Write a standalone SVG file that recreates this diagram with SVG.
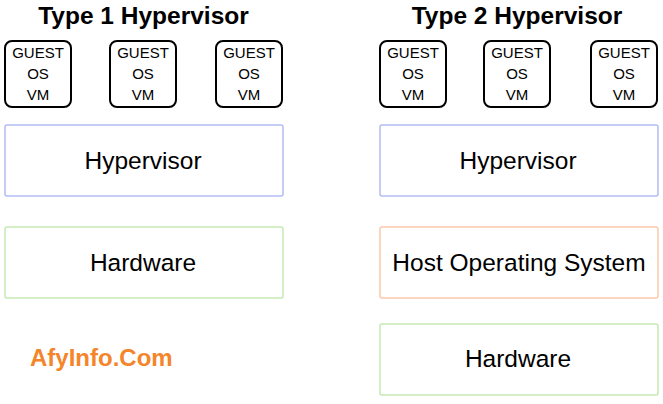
<svg xmlns="http://www.w3.org/2000/svg" width="663" height="404" viewBox="0 0 663 404">
<style>
text{font-family:"Liberation Sans",Arial,sans-serif;fill:#000;text-anchor:middle}
.title{font-size:24.5px;font-weight:bold}
.vm rect{fill:#fff;stroke:#000;stroke-width:2}
.vm text{font-size:15px}
.layer text{font-size:24.5px}
.blue{fill:#fff;stroke:#b3bdf5;stroke-width:1.5}
.green{fill:#fff;stroke:#c6eab2;stroke-width:1.5}
.orange{fill:#fff;stroke:#fcc9ab;stroke-width:1.5}
</style>
<rect width="663" height="404" fill="#fff"/>
<text class="title" x="143.5" y="24">Type 1 Hypervisor</text>
<text class="title" x="517" y="24">Type 2 Hypervisor</text>

<g id="vm1" class="vm"><rect x="5" y="41" width="66" height="66" rx="7"/><text x="38" y="58">GUEST</text><text x="38" y="79">OS</text><text x="38" y="100">VM</text></g>
<g id="vm2" class="vm"><rect x="110" y="41" width="66" height="66" rx="7"/><text x="143" y="58">GUEST</text><text x="143" y="79">OS</text><text x="143" y="100">VM</text></g>
<g id="vm3" class="vm"><rect x="216" y="41" width="66" height="66" rx="7"/><text x="249" y="58">GUEST</text><text x="249" y="79">OS</text><text x="249" y="100">VM</text></g>
<g id="vm4" class="vm"><rect x="380" y="41" width="66" height="66" rx="7"/><text x="413" y="58">GUEST</text><text x="413" y="79">OS</text><text x="413" y="100">VM</text></g>
<g id="vm5" class="vm"><rect x="484" y="41" width="66" height="66" rx="7"/><text x="517" y="58">GUEST</text><text x="517" y="79">OS</text><text x="517" y="100">VM</text></g>
<g id="vm6" class="vm"><rect x="591" y="41" width="66" height="66" rx="7"/><text x="624" y="58">GUEST</text><text x="624" y="79">OS</text><text x="624" y="100">VM</text></g>

<g id="hyp1" class="layer"><rect class="blue" x="5" y="125" width="278" height="71" rx="2"/><text x="143" y="169">Hypervisor</text></g>
<g id="hw1" class="layer"><rect class="green" x="5" y="227" width="278" height="71" rx="2"/><text x="143" y="271">Hardware</text></g>
<g id="hyp2" class="layer"><rect class="blue" x="380" y="125" width="278" height="71" rx="2"/><text x="518" y="169">Hypervisor</text></g>
<g id="hos" class="layer"><rect class="orange" x="380" y="227" width="278" height="71" rx="2"/><text x="519" y="271">Host Operating System</text></g>
<g id="hw2" class="layer"><rect class="green" x="380" y="324" width="278" height="71" rx="2"/><text x="518" y="367">Hardware</text></g>

<g id="connectors"></g>
<text x="30" y="366" style="text-anchor:start;font-size:24px;font-weight:bold;fill:#f5852a">AfyInfo.Com</text>
</svg>
